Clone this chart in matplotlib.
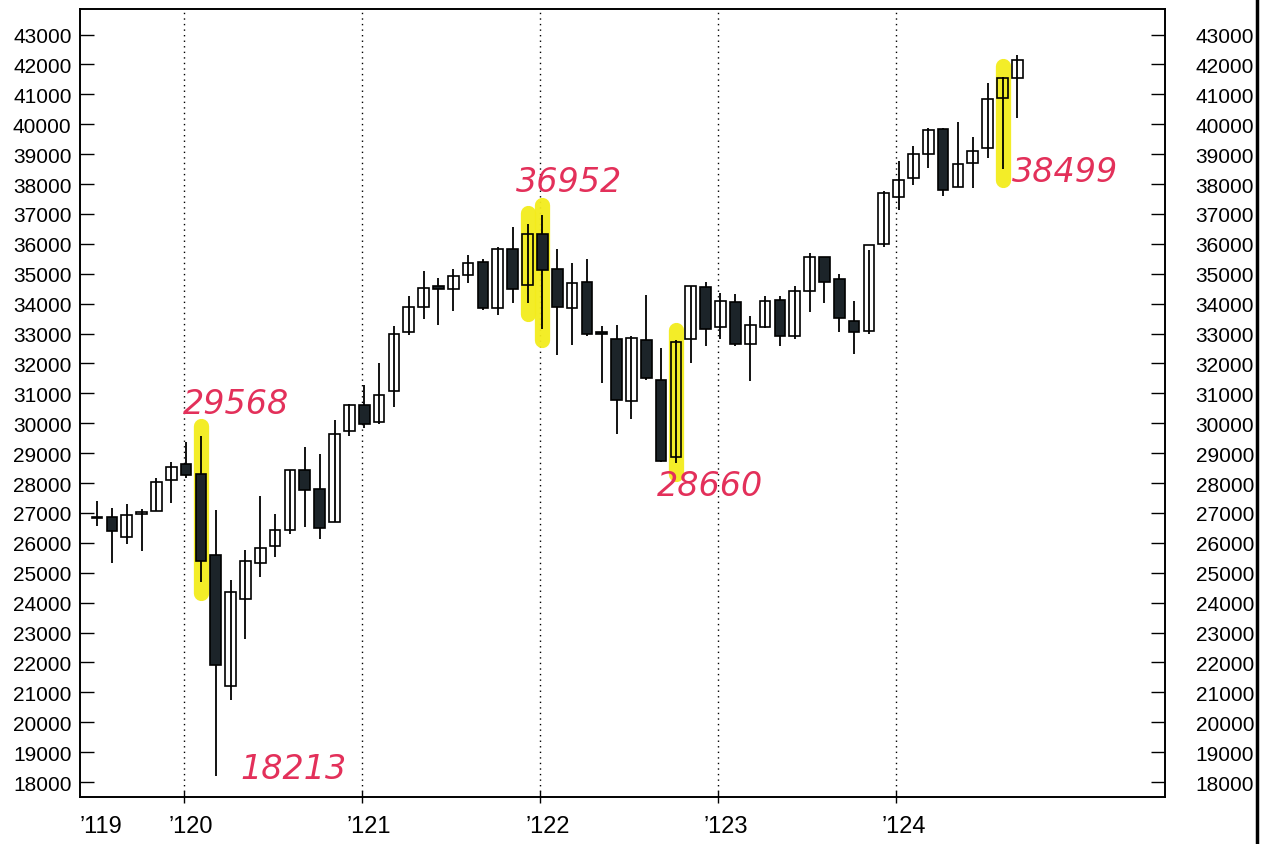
import matplotlib.pyplot as plt
from matplotlib.lines import Line2D
from matplotlib import transforms

# monthly candles, first one = Jul 2019 (months counted from Jan 2019)
start_month = 6
opens = [26818, 26864, 26198, 26963, 27070, 28109,
         28638, 28319, 25591, 21228, 24121, 25343, 25880, 26419, 28439, 27816, 26691, 29751,
         30627, 30054, 31065, 33054, 33904, 34584, 34507, 34947, 35388, 33871, 35834, 34639,
         36322, 35153, 33859, 34741, 33061, 32814, 30737, 32785, 31454, 28855, 32807, 34563,
         33210, 34040, 32661, 33226, 34130, 32923, 34437, 35567, 34838, 33434, 33071, 35997,
         37566, 38197, 38994, 39837, 37916, 38702, 39196, 40862, 41563]
highs = [27398, 27150, 27306, 27122, 28175, 28701,
         29374, 29568, 27102, 24765, 25759, 27580, 26950, 28430, 29199, 28958, 30117, 30637,
         31272, 32009, 33259, 34256, 35091, 34850, 35171, 35632, 35510, 35892, 36566, 36679,
         36952, 35824, 35372, 35492, 33249, 33272, 32910, 34281, 32504, 32784, 34589, 34712,
         34342, 34335, 33572, 34257, 34258, 34589, 35679, 35571, 34977, 34082, 35801, 37778,
         38783, 39283, 39890, 39890, 40077, 39587, 41376, 41585, 42300]
lows = [26560, 25339, 25978, 25743, 27070, 27325,
        28170, 24681, 18213, 20735, 22790, 24843, 25523, 26285, 26537, 26144, 26691, 29571,
        29856, 29973, 30548, 32936, 33474, 33272, 33742, 34690, 33785, 33613, 34007, 34007,
        33150, 32273, 32632, 32913, 31353, 29653, 30144, 31456, 28715, 28660, 32028, 32573,
        32812, 32575, 31430, 33200, 32587, 32831, 33706, 34030, 33052, 32327, 32986, 35884,
        37123, 37981, 38552, 37611, 37917, 37868, 38880, 38499, 40200]
closes = [26864, 26403, 26917, 27046, 28051, 28538,
          28256, 25409, 21917, 24346, 25383, 25813, 26428, 28430, 27782, 26502, 29639, 30606,
          29983, 30932, 32982, 33875, 34529, 34503, 34935, 35361, 33844, 35820, 34484, 36338,
          35132, 33893, 34678, 32977, 32990, 30775, 32845, 31510, 28726, 32733, 34590, 33147,
          34086, 32657, 33274, 34098, 32908, 34408, 35560, 34722, 33508, 33053, 35951, 37690,
          38150, 38996, 39807, 37816, 38686, 39119, 40843, 41563, 42150]

year_labels = ["\u2019119", "\u2019120", "\u2019121", "\u2019122", "\u2019123", "\u2019124"]
year_pos = [6, 12, 24, 36, 48, 60]

# handwritten notes: (month, text) and highlighted candles
note_month = [13, 14, 36, 45, 67]
note_text = ["29568", "18213", "36952", "28660", "38499"]
marked_months = [13, 35, 36, 45, 67]

plt.rcParams['font.family'] = ['Liberation Sans', 'DejaVu Sans']

fig = plt.figure(figsize=(12.65, 8.45), dpi=100)
ax = fig.add_axes([0.0632, 0.0556, 0.8578, 0.9324])

shift = 0.15
width = 0.72
idx = {}
for i in range(len(opens)):
    m = start_month + i
    idx[m] = i
    x = m + shift
    o, h, l, c = opens[i], highs[i], lows[i], closes[i]
    lo, hi = min(o, c), max(o, c)
    ax.vlines(x, l, h, color='black', lw=1.3, zorder=3)
    if c >= o:
        # white body: fill below the highlighter, outline above it
        ax.bar(x, max(hi - lo, 40), bottom=lo, width=width, color='white', zorder=1)
        ax.bar(x, max(hi - lo, 40), bottom=lo, width=width, facecolor='none',
               edgecolor='black', lw=1.2, zorder=4)
    else:
        ax.bar(x, max(hi - lo, 40), bottom=lo, width=width, color='#1c2429',
               edgecolor='black', lw=1.2, zorder=4)

# yellow marker
for m in marked_months:
    i = idx[m]
    ax.vlines(m + shift, lows[i] - 350, highs[i] + 350, color='#f3ec1c', lw=11,
              capstyle='round', alpha=0.95, zorder=2)

# red notes
note_off = [(-1.2, 1100), (1.65, 250), (-1.75, 1140), (-1.3, -730), (0.65, -80)]
for m, t, (dx, dy) in zip(note_month, note_text, note_off):
    i = idx[m]
    base = highs[i] if dy > 500 else lows[i]
    ax.text(m + shift + dx, base + dy, t, color='#e3305a', fontsize=24,
            family='DejaVu Sans', style='italic', ha='left', va='center', zorder=5)

for p in year_pos[1:]:
    ax.axvline(p, color='black', lw=1, ls=(0, (1, 3)), zorder=0)

ax.set_xlim(5.0, 78.1)
ax.set_ylim(17500, 43850)

# year ticks; labels sit a bit left of the tick
ax.set_xticks(year_pos[1:])
ax.set_xticklabels([])
ax.tick_params(axis='x', direction='inout', length=8, width=1)
trans = transforms.blended_transform_factory(ax.transData, ax.transAxes)
offset = transforms.ScaledTranslation(-15 / 100, -18 / 100, fig.dpi_scale_trans)
for p, lab in zip(year_pos, year_labels):
    ax.text(p, 0, lab, fontsize=17, ha='left', va='top', transform=trans + offset)

yt = list(range(18000, 43001, 1000))
ax.set_yticks(yt)
ax.set_yticklabels([str(v) for v in yt], fontsize=15)
ax.tick_params(axis='y', direction='in', length=10, pad=6, width=1)

ax2 = ax.twinx()
ax2.set_ylim(ax.get_ylim())
ax2.set_yticks(yt)
ax2.set_yticklabels([str(v) for v in yt], fontsize=15)
ax2.tick_params(axis='y', direction='in', length=10, pad=22, width=1)

for a in (ax, ax2):
    for s in a.spines.values():
        s.set_linewidth(1.2)

# page edge of the scan
fig.add_artist(Line2D([0.9937, 0.9937], [0, 1], color='black', lw=2.5))

fig.savefig('out.png', dpi=100)
